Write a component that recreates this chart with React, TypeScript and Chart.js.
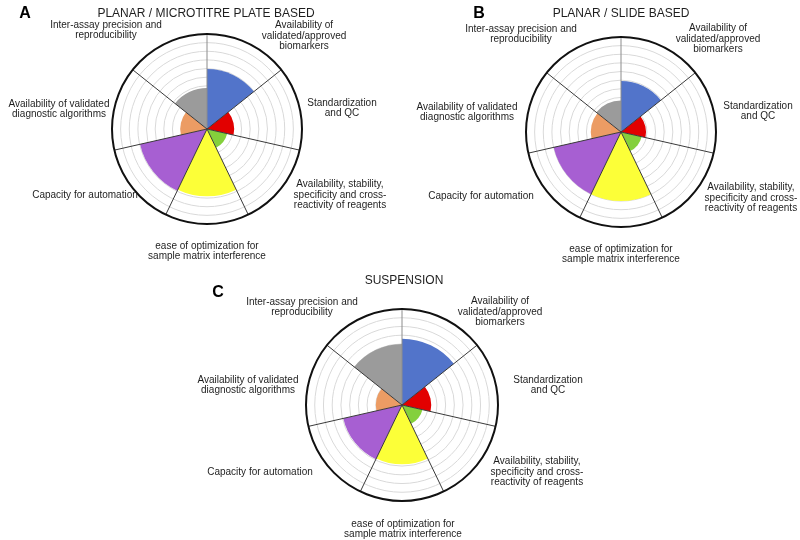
import React, { useEffect, useRef } from 'react';
import { Chart, registerables } from 'chart.js';

Chart.register(...registerables);

// ---------- data ----------
const categories: string[][] = [
  ['Availability of', 'validated/approved', 'biomarkers'],
  ['Standardization', 'and QC'],
  ['Availability, stability,', 'specificity and cross-', 'reactivity of reagents'],
  ['ease of optimization for', 'sample matrix interference'],
  ['Capacity for automation'],
  ['Availability of validated', 'diagnostic algorithms'],
  ['Inter-assay precision and', 'reproducibility'],
];

const valuesA = [6.95, 3.15, 2.4, 7.8, 7.95, 3.1, 4.75];
const valuesB = [5.9, 2.9, 2.45, 8.0, 8.0, 3.5, 3.65];
const valuesC = [7.6, 3.35, 2.4, 6.8, 6.9, 3.0, 7.0];

const titles = ['PLANAR / MICROTITRE PLATE BASED', 'PLANAR / SLIDE BASED', 'SUSPENSION'];
const panelLetters = ['A', 'B', 'C'];

const scaleMin = 0;
const scaleMax = 11;
const scaleStep = 1;

// ---------- styles ----------
const segmentColors = ['#5274ca', '#e20000', '#84d03c', '#fcff38', '#a75fd2', '#ec9c64', '#9b9b9b'];
const TEXT_COLOR = '#1e1e1e';
const FONT_FAMILY = '"Liberation Sans", Arial, Helvetica, sans-serif';

// ---------- layout (page coordinates) ----------
type Panel = {
  values: number[];
  title: string;
  letter: string;
  canvas: { left: number; top: number; width: number; height: number };
  cx: number;
  cy: number;
  r: number;
  titlePos: [number, number];
  letterPos: [number, number];
  labelOffsets: [number, number][];
};

const panels: Panel[] = [
  {
    values: valuesA,
    title: titles[0],
    letter: panelLetters[0],
    canvas: { left: 0, top: 0, width: 410, height: 270 },
    cx: 207,
    cy: 129,
    r: 95,
    titlePos: [206, 14],
    letterPos: [25, 14],
    labelOffsets: [[97, -93], [135, -21], [133, 66], [0, 122], [-122, 66], [-148, -20], [-101, -99]],
  },
  {
    values: valuesB,
    title: titles[1],
    letter: panelLetters[1],
    canvas: { left: 410, top: 0, width: 390, height: 270 },
    cx: 621,
    cy: 132,
    r: 95,
    titlePos: [621, 14],
    letterPos: [479, 14],
    labelOffsets: [[97, -93], [137, -21], [130, 66], [0, 122], [-140, 64], [-154, -20], [-100, -98]],
  },
  {
    values: valuesC,
    title: titles[2],
    letter: panelLetters[2],
    canvas: { left: 150, top: 270, width: 500, height: 270 },
    cx: 402,
    cy: 405,
    r: 96,
    titlePos: [404, 281],
    letterPos: [218, 293],
    labelOffsets: [[98, -93], [146, -20], [135, 67], [1, 124], [-142, 67], [-154, -20], [-100, -98]],
  },
];

function PolarPanel({ panel }: { panel: Panel }) {
  const ref = useRef<HTMLCanvasElement | null>(null);

  useEffect(() => {
    const canvas = ref.current;
    if (!canvas) return;
    const { canvas: box, cx, cy, r } = panel;
    const padLeft = cx - box.left - r;
    const padTop = cy - box.top - r;
    const padRight = box.width - (cx - box.left) - r;
    const padBottom = box.height - (cy - box.top) - r;

    const decor = {
      id: 'decor',
      afterDatasetsDraw(chart: any) {
        const s = chart.scales.r;
        const ctx = chart.ctx as CanvasRenderingContext2D;
        const n = chart.data.labels.length;
        ctx.save();
        // separating angle lines
        for (let i = 0; i < n; i++) {
          const p = s.getPointPosition(i, s.drawingArea);
          ctx.beginPath();
          ctx.moveTo(s.xCenter, s.yCenter);
          ctx.lineTo(p.x, p.y);
          ctx.strokeStyle = i === 0 ? '#8c8c8c' : '#3a3a3a';
          ctx.lineWidth = 1;
          ctx.stroke();
        }
        // outer circle
        ctx.beginPath();
        ctx.arc(s.xCenter, s.yCenter, s.drawingArea, 0, Math.PI * 2);
        ctx.strokeStyle = '#111111';
        ctx.lineWidth = 2;
        ctx.stroke();
        ctx.restore();
      },
      afterDraw(chart: any) {
        const s = chart.scales.r;
        const ctx = chart.ctx as CanvasRenderingContext2D;
        ctx.save();
        ctx.fillStyle = TEXT_COLOR;
        ctx.textAlign = 'center';
        ctx.textBaseline = 'middle';
        // category labels
        ctx.font = `10px ${FONT_FAMILY}`;
        const lineH = 10.5;
        (chart.data.labels as string[][]).forEach((lines, i) => {
          const [dx, dy] = panel.labelOffsets[i];
          const bx = s.xCenter + dx;
          const by = s.yCenter + dy;
          lines.forEach((t, j) => {
            ctx.fillText(t, bx, by + (j - (lines.length - 1) / 2) * lineH);
          });
        });
        // title
        ctx.font = `12px ${FONT_FAMILY}`;
        ctx.fillText(panel.title, panel.titlePos[0] - box.left, panel.titlePos[1] - box.top);
        // panel letter
        ctx.font = `bold 16px ${FONT_FAMILY}`;
        ctx.fillStyle = '#000000';
        ctx.fillText(panel.letter, panel.letterPos[0] - box.left, panel.letterPos[1] - box.top);
        ctx.restore();
      },
    };

    const chart = new Chart(canvas, {
      type: 'polarArea',
      data: {
        labels: categories,
        datasets: [
          {
            data: panel.values,
            backgroundColor: segmentColors,
            borderWidth: 0,
          },
        ],
      },
      options: {
        responsive: false,
        animation: false,
        devicePixelRatio: 1,
        layout: { padding: { left: padLeft, right: padRight, top: padTop, bottom: padBottom } },
        plugins: {
          legend: { display: false },
          tooltip: { enabled: false },
          title: { display: false },
        },
        scales: {
          r: {
            min: scaleMin,
            max: scaleMax,
            startAngle: 0,
            ticks: { display: false, stepSize: scaleStep },
            grid: {
              color: (c: any) => (c.index >= scaleMax ? 'rgba(0,0,0,0)' : '#d9d9d9'),
              lineWidth: 1,
            },
            angleLines: { display: false },
            pointLabels: { display: false },
          },
        },
      } as any,
      plugins: [decor],
    });
    return () => chart.destroy();
  }, [panel]);

  return (
    <canvas
      ref={ref}
      width={panel.canvas.width}
      height={panel.canvas.height}
      style={{
        position: 'absolute',
        left: panel.canvas.left,
        top: panel.canvas.top,
        width: panel.canvas.width,
        height: panel.canvas.height,
      }}
    />
  );
}

export default function App() {
  return (
    <div
      style={{
        position: 'absolute',
        left: 0,
        top: 0,
        width: 800,
        height: 540,
        background: '#ffffff',
        overflow: 'hidden',
      }}
    >
      {panels.map((p) => (
        <PolarPanel key={p.letter} panel={p} />
      ))}
    </div>
  );
}
